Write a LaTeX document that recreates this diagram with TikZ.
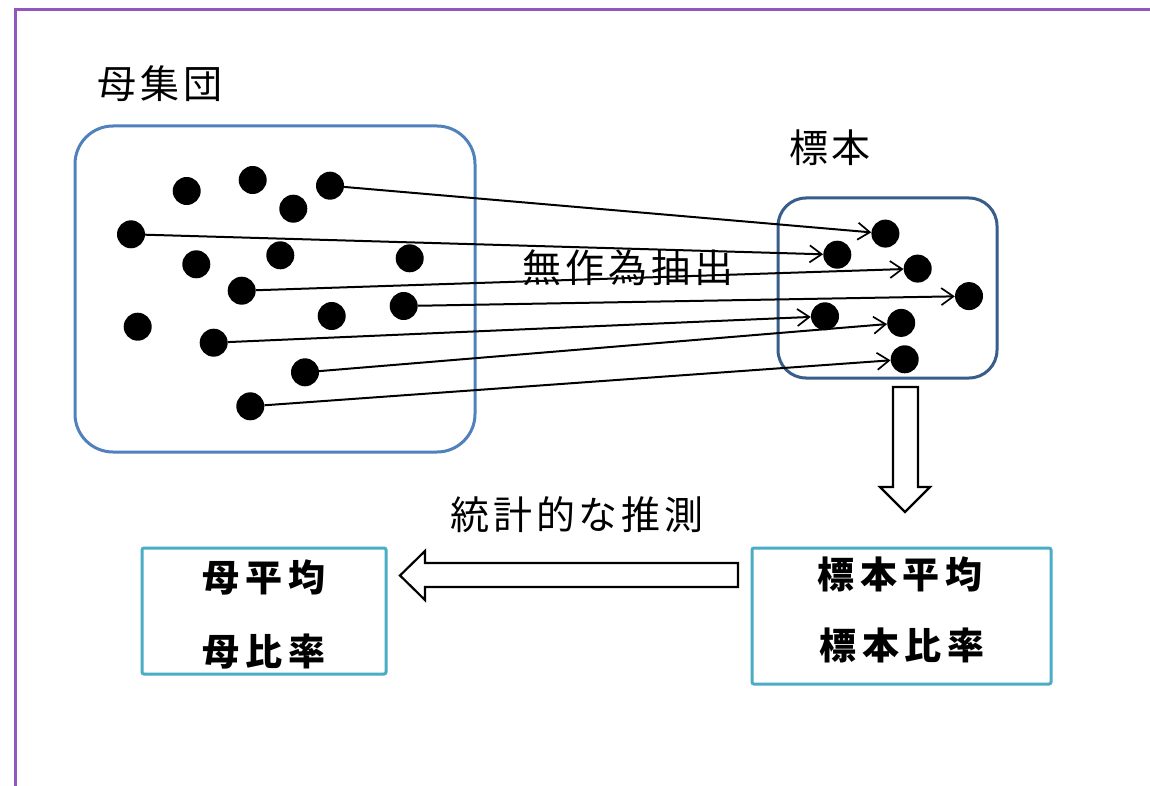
\documentclass[tikz,border=0pt]{standalone}
\usepackage{fontspec}
\usetikzlibrary{arrows.meta}
\newfontfamily\cjk[LetterSpace=10]{Noto Sans CJK JP}
\newfontfamily\cjkw[LetterSpace=16]{Noto Sans CJK JP}
\definecolor{frame}{RGB}{145,87,191}
\definecolor{popblue}{RGB}{79,129,189}
\definecolor{sampblue}{RGB}{56,93,138}
\definecolor{resbox}{RGB}{75,172,198}
\begin{document}
\begin{tikzpicture}[x=1pt,y=-1pt,
  dot/.style={circle,fill=black,minimum size=28pt,inner sep=0pt},
  lbl/.style={font=\cjk\fontsize{39}{44}\selectfont,inner sep=0pt},
  blbl/.style={font=\cjkw\bfseries\fontsize{37}{44}\selectfont,inner sep=0pt},
  link/.style={line width=2pt,-{Straight Barb[length=12pt,width=17pt,line width=1.7pt]}},
  blk/.style={draw=black,line width=2.2pt,fill=white,line join=miter},
  bigbox/.style={draw,line width=3pt,inner sep=0pt}
]
\useasboundingbox (0,0) rectangle (1150,786);
\fill[white] (0,0) rectangle (1150,786);
\draw[frame,line width=3pt] (15,790) -- (15,10) -- (1155,10);

% boxes
\node[bigbox,draw=popblue,rounded corners=38pt,minimum width=400pt,minimum height=326pt] (pop) at (275,289) {};
\node[bigbox,draw=sampblue,rounded corners=28pt,minimum width=219pt,minimum height=180pt] (samp) at (887.5,288) {};
\node[bigbox,draw=resbox,rounded corners=2pt,minimum width=244pt,minimum height=126pt] (popres) at (264,611) {};
\node[bigbox,draw=resbox,rounded corners=2pt,minimum width=299pt,minimum height=136pt] (sampres) at (901.5,616) {};

% labels
\node[lbl] (lpop) at (160,84) {母集団};
\node[lbl] (lsamp) at (830,148) {標本};
\node[lbl] (linf) at (577,515) {統計的な推測};

% population dots
\node[dot] (p1) at (186.7,191) {};
\node[dot] (p2) at (252.7,180) {};
\node[dot] (p3) at (293.3,208.7) {};
\node[dot] (p4) at (330,185.7) {};
\node[dot] (p5) at (131,234.3) {};
\node[dot] (p6) at (196.3,264.3) {};
\node[dot] (p7) at (280.3,255.3) {};
\node[dot] (p8) at (409.7,258.3) {};
\node[dot] (p9) at (241.7,290.7) {};
\node[dot] (p10) at (403.7,306) {};
\node[dot] (p11) at (331.7,316) {};
\node[dot] (p12) at (137.7,326.7) {};
\node[dot] (p13) at (213.7,342.7) {};
\node[dot] (p14) at (305,372.3) {};
\node[dot] (p15) at (250.3,406.3) {};

% sample dots
\node[dot] (s1) at (885.4,233.6) {};
\node[dot] (s2) at (837.3,254.7) {};
\node[dot] (s3) at (917.7,268.6) {};
\node[dot] (s4) at (969,296.1) {};
\node[dot] (s5) at (825,316.3) {};
\node[dot] (s6) at (901.2,322.9) {};
\node[dot] (s7) at (904.7,359.3) {};

% sampling arrows
\draw[link] (p4) -- (s1);
\draw[link] (p5) -- (s2);
\draw[link] (p9) -- (s3);
\draw[link] (p10) -- (s4);
\draw[link] (p13) -- (s5);
\draw[link] (p14) -- (s6);
\draw[link] (p15) -- (s7);

\node[lbl] (lrand) at (628,268) {無作為抽出};

% block arrows
\draw[blk] (893,387) -- (918,387) -- (918,487) -- (930,487) -- (905,512) -- (880,487) -- (893,487) -- cycle;
\draw[blk] (738,563) -- (425,563) -- (425,551) -- (400,575.5) -- (425,600) -- (425,587) -- (738,587) -- cycle;

% result texts
\node[blbl] (t1) at (264,577) {母平均};
\node[blbl] (t2) at (264,652) {母比率};
\node[blbl] (t3) at (900,574) {標本平均};
\node[blbl] (t4) at (902,645) {標本比率};
\end{tikzpicture}
\end{document}
